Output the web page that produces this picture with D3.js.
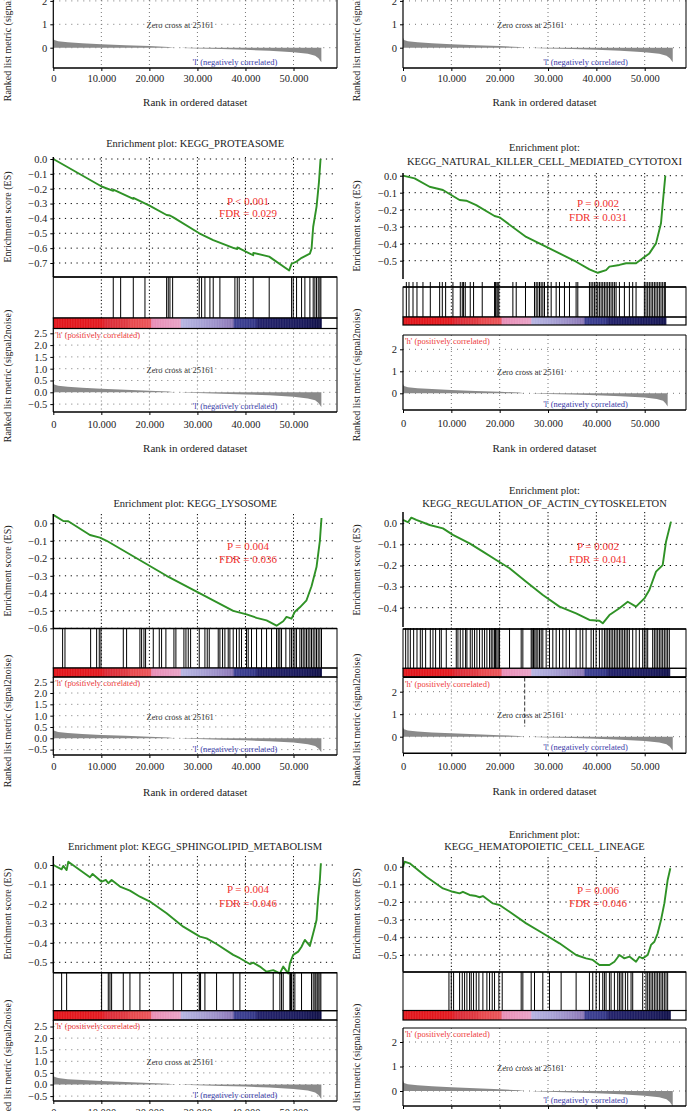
<!DOCTYPE html>
<html>
<head>
<meta charset="utf-8">
<script src="https://cdn.jsdelivr.net/npm/d3@7"></script>
<style>
body { margin: 0; background: #fff; }
svg { display: block; font-family: "Liberation Serif", "Times New Roman", serif; }
</style>
</head>
<body>
<svg id="chart" width="687" height="1111"></svg>
<script>
// ---- data ----
const xTicks = [0, 10000, 20000, 30000, 40000, 50000];
const rlTicksFine = [2.5, 2.0, 1.5, 1.0, 0.5, 0.0, -0.5];
const rlTicksCoarse = [2, 1, 0];
const zeroCross = 25161;

const geneSets = ['KEGG_PROTEASOME', 'KEGG_NATURAL_KILLER_CELL_MEDIATED_CYTOTOXI', 'KEGG_LYSOSOME',
    'KEGG_REGULATION_OF_ACTIN_CYTOSKELETON', 'KEGG_SPHINGOLIPID_METABOLISM', 'KEGG_HEMATOPOIETIC_CELL_LINEAGE'];
const pLabels = ['P < 0.001', 'P = 0.002', 'P = 0.004', 'P = 0.002', 'P = 0.004', 'P = 0.006'];
const fdrValues = ['0.029', '0.031', '0.036', '0.041', '0.046', '0.046'];
const listSizes = [56000, 55800, 55800, 54400, 55850, 55200, 55750, 55300];

// ranked list metric (signal2noise), [rank, value]
const rankedMetric = [[0, 0.42], [200, 0.33], [1000, 0.28], [3000, 0.23], [6000, 0.19], [10000, 0.15],
    [15000, 0.11], [20000, 0.07], [24000, 0.035], [25161, 0], [26800, 0], [27000, -0.01], [30000, -0.03],
    [35000, -0.06], [40000, -0.09], [45000, -0.13], [50000, -0.19], [53000, -0.26], [54500, -0.34],
    [55200, -0.45], [55800, -0.62]];
const rankedMetricNK = [[0, 0.42], [200, 0.33], [1000, 0.28], [3000, 0.23], [6000, 0.19], [10000, 0.15],
    [15000, 0.11], [20000, 0.07], [24000, 0.035], [25161, 0], [26800, 0], [27000, -0.01], [30000, -0.03],
    [35000, -0.06], [40000, -0.09], [45000, -0.13], [50000, -0.19], [52500, -0.26], [53800, -0.34],
    [54300, -0.45], [54750, -0.6]];

// colour bar stops (rank -> colour)
const barStops = [0, 10000, 11000, 15500, 16000, 20300, 20400, 26500, 26600, 30000, 34000, 37500, 37600, 42000, 42500, 52000, 56000];
const barColors = ['#e2151b', '#e3191f', '#dc2a36', '#e03a42', '#e8474c', '#ea5358', '#e88cb5', '#e8a2c6',
    '#b6b4e2', '#aaa6d8', '#9c8fc8', '#8a76b5', '#3c3f92', '#343788', '#22216a', '#1a1a5c', '#0e0e44'];

// running enrichment scores, [rank, ES]
const esTicksProteasome = [0, -0.1, -0.2, -0.3, -0.4, -0.5, -0.6, -0.7];
const esProteasome = [[0, 0], [10060, -0.185], [12480, -0.214], [12500, -0.206], [16650, -0.268], [16680, -0.262],
    [20120, -0.316], [23590, -0.377], [24280, -0.38], [24980, -0.393], [30380, -0.5], [33290, -0.546],
    [37450, -0.598], [38290, -0.606], [38320, -0.595], [41610, -0.648], [41640, -0.632], [44940, -0.657],
    [49100, -0.75], [49600, -0.705], [50640, -0.69], [51700, -0.665], [53410, -0.637], [53760, -0.603],
    [54100, -0.456], [54800, -0.32], [55280, -0.163], [55630, 0]];
const hitsProteasome = [12480, 14020, 16650, 19080, 23590, 23930, 24280, 24840, 30380, 30870, 31560, 32600,
    33290, 34680, 37800, 38290, 38700, 41610, 44940, 49600, 49940, 50640, 51680, 52370, 53410, 54100, 54450,
    54800, 55150, 55490, 55700];

const esTicksNK = [0, -0.1, -0.2, -0.3, -0.4, -0.5];
const esNK = [[0, 0], [2400, -0.016], [5500, -0.065], [8260, -0.084], [11700, -0.143], [13090, -0.147],
    [15150, -0.173], [18940, -0.237], [19970, -0.245], [25480, -0.36], [28930, -0.408], [32370, -0.457],
    [35810, -0.506], [38570, -0.551], [40290, -0.571], [42010, -0.555], [42700, -0.535], [44770, -0.525],
    [46150, -0.515], [48210, -0.515], [49590, -0.486], [50960, -0.457], [52340, -0.398], [53370, -0.28],
    [53860, -0.124], [54270, 0]];
const hitsNK = [690, 1240, 2070, 2890, 4130, 5650, 7580, 8130, 8820, 10330, 11850, 12260, 12530, 12880, 13910,
    14600, 16390, 18940, 19150, 19420, 19630, 19830, 22730, 23420, 25340, 27200, 27550, 27890, 28240, 28580,
    28930, 29270, 29960, 30650, 31680, 32370, 33400, 34440, 35810, 36160, 38570, 38910, 39260, 39600, 39940,
    40290, 40630, 40980, 41320, 41660, 42010, 42350, 42700, 43040, 43390, 43730, 44080, 44770, 45800, 46830,
    47520, 48210, 49930, 50270, 50620, 50960, 51310, 51650, 52000, 52340, 52690, 53030, 53370, 53720, 54060, 54270];

const esTicksLysosome = [0, -0.1, -0.2, -0.3, -0.4, -0.5, -0.6];
const esLysosome = [[0, 0.048], [2080, 0.013], [3120, 0.012], [7630, -0.067], [9710, -0.082], [11100, -0.1],
    [17340, -0.2], [23580, -0.3], [30520, -0.4], [37450, -0.5], [40230, -0.52], [42310, -0.54], [44390, -0.555],
    [46470, -0.585], [47860, -0.56], [48550, -0.535], [49590, -0.545], [50290, -0.505], [51330, -0.48],
    [52710, -0.44], [53750, -0.36], [54790, -0.25], [55490, -0.1], [55830, 0.03]];
const hitsLysosome = [1940, 2430, 7770, 9020, 9570, 9920, 14570, 15260, 18030, 18380, 18870, 19210, 20810, 22060,
    22540, 23440, 25110, 25520, 27190, 27610, 28090, 28580, 30380, 31560, 32040, 32460, 34330, 34680, 35240,
    35720, 36410, 36760, 37450, 38140, 38700, 39180, 40220, 40570, 41260, 42310, 43350, 44390, 45430, 46470,
    46820, 47160, 47510, 48410, 49240, 49590, 49940, 50290, 50630, 51330, 51680, 52020, 52370, 52710, 53060,
    53410, 53750, 54100, 54450, 54790, 55140, 55490, 55830];

const esTicksActin = [0, -0.1, -0.2, -0.3, -0.4];
const esActin = [[0, 0.016], [1030, 0.005], [1720, 0.027], [2750, 0.016], [5510, -0.008], [8260, -0.024],
    [10330, -0.055], [13770, -0.095], [16530, -0.134], [19280, -0.174], [22040, -0.213], [25480, -0.277],
    [28930, -0.34], [32370, -0.395], [35810, -0.427], [38570, -0.458], [40630, -0.462], [41320, -0.474],
    [42700, -0.435], [44770, -0.403], [46490, -0.372], [48210, -0.395], [49930, -0.356], [50960, -0.316],
    [52340, -0.229], [53720, -0.198], [54410, -0.087], [55440, 0.008]];
const hitsActin = [551, 1033, 1515, 2204, 2893, 3581, 3994, 4683, 5647, 6198, 6749, 7576, 7920, 8953, 11019,
    11364, 11846, 12397, 12948, 13223, 13912, 14325, 14807, 15289, 15840, 16391, 16873, 17355, 17906, 18251,
    18595, 18939, 19146, 19421, 19697, 19972, 22038, 24449, 24793, 26515, 26722, 26997, 27273, 27548, 27892,
    28237, 28581, 28925, 29614, 30303, 30992, 31680, 32369, 33058, 33746, 34435, 35812, 36639, 37190, 37878,
    38911, 39393, 39944, 40633, 41184, 41666, 42010, 42355, 42699, 43044, 43388, 43732, 44077, 44421, 44766,
    45110, 45454, 45799, 46143, 46487, 46832, 47520, 48209, 48898, 49586, 49931, 50275, 50619, 51652, 51997,
    52341, 52685, 53030, 53374, 53718, 54063, 54407, 54752, 55096];

const esTicksSphingo = [0, -0.1, -0.2, -0.3, -0.4, -0.5];
const esSphingo = [[0, 0], [1734, -0.022], [2081, -0.005], [2774, -0.026], [3121, 0.017], [7630, -0.063],
    [8184, -0.046], [10057, -0.086], [10959, -0.077], [11444, -0.094], [12138, -0.077], [13872, -0.111],
    [15953, -0.132], [18034, -0.163], [20114, -0.188], [23582, -0.248], [27050, -0.317], [30518, -0.368],
    [31906, -0.377], [33986, -0.406], [37454, -0.462], [38842, -0.479], [40922, -0.509], [41616, -0.502],
    [43003, -0.522], [44390, -0.548], [45778, -0.54], [47165, -0.557], [47858, -0.522], [48899, -0.557],
    [49246, -0.506], [49939, -0.462], [50980, -0.445], [51673, -0.42], [52367, -0.385], [53407, -0.416],
    [54101, -0.351], [54448, -0.317], [54794, -0.283], [55141, -0.163], [55488, -0.077], [55696, 0.009]];
const hitsSphingo = [1734, 2774, 10057, 11444, 11791, 12138, 14566, 15953, 18034, 24970, 26704, 30380, 30518,
    30657, 31559, 33986, 37454, 38842, 45778, 47165, 47512, 47858, 49246, 49385, 49593, 49939, 50286, 51673,
    53754, 54101, 54448, 54656, 54933, 55141, 55488, 55696];

const esTicksHemat = [0, -0.1, -0.2, -0.3, -0.4, -0.5];
const esHemat = [[0, 0], [344, 0.028], [1377, 0.019], [4821, -0.057], [8264, -0.123], [10330, -0.142],
    [11708, -0.151], [12397, -0.142], [13774, -0.16], [15151, -0.166], [15840, -0.173], [16529, -0.166],
    [18595, -0.208], [19972, -0.217], [22038, -0.255], [25482, -0.321], [28925, -0.377], [32369, -0.434],
    [35812, -0.5], [37878, -0.519], [39256, -0.528], [40633, -0.557], [42699, -0.557], [43732, -0.538],
    [44766, -0.5], [45799, -0.519], [46832, -0.509], [48209, -0.538], [48898, -0.51], [49586, -0.519],
    [50619, -0.5], [51308, -0.443], [51997, -0.425], [52685, -0.377], [53374, -0.302], [54063, -0.208],
    [54752, -0.075], [55303, -0.009]];
const hitsHemat = [9504, 9986, 10468, 11708, 12259, 12741, 13223, 13774, 14118, 14600, 15151, 15702, 16529,
    17355, 17906, 18457, 18939, 19835, 20523, 24449, 24793, 26515, 27204, 28925, 30303, 32713, 35812, 38567,
    39256, 39944, 40633, 41322, 41666, 42010, 42699, 43044, 43732, 44421, 44766, 45110, 45454, 46005, 46487,
    47176, 47520, 49586, 50275, 50619, 50964, 51308, 51652, 51997, 52341, 52685, 53030, 53374, 53718, 54063,
    54407, 54752];

// ---- layout ----
const COLS = [
    {x0: 53.3, x50: 293.5, xR: 337, labelX: 7},
    {x0: 403, x50: 644.7, xR: 686, labelX: 356}
];

const panels = [
    {col: 0, top: true, metric: rankedMetric, size: listSizes[0],
     rl: {dom: [0, 1], rng: [47.7, 24.3], top: -20, bottom: 68}, rlTicks: rlTicksCoarse, rlFmt: 'd',
     xTickY: 78.3, xTitleY: 102, rlLabelY: 35},
    {col: 1, top: true, metric: rankedMetric, size: listSizes[1],
     rl: {dom: [0, 1], rng: [47.7, 24.3], top: -20, bottom: 68}, rlTicks: rlTicksCoarse, rlFmt: 'd',
     xTickY: 78.3, xTitleY: 102, rlLabelY: 35},
    {col: 0, set: 0, title: ['Enrichment plot: ' + geneSets[0]], titleY: [143],
     esData: esProteasome, esTicks: esTicksProteasome, hitsData: hitsProteasome, metric: rankedMetric, size: listSizes[2],
     es: {dom: [0, -0.7], rng: [159, 263], top: 157, bottom: 277}, esLabelY: 217,
     hits: {top: 277, bottom: 318, line: 277}, bar: {top: 318, bottom: 328.5},
     rl: {dom: [0, 2.5], rng: [392.3, 333.3], top: 328.5, bottom: 412}, rlTicks: rlTicksFine, rlFmt: '.1f',
     xTickY: 424, xTitleY: 448, statsX: 248, statsY: [201, 213.3], rlLabelY: 376},
    {col: 1, set: 1, title: ['Enrichment plot:', geneSets[1]], titleY: [147, 161],
     esData: esNK, esTicks: esTicksNK, hitsData: hitsNK, metric: rankedMetricNK, size: listSizes[3],
     es: {dom: [0, -0.5], rng: [175.7, 260.7], top: 173, bottom: 279}, esLabelY: 226,
     hits: {top: 282, bottom: 317, line: 287}, bar: {top: 317, bottom: 325},
     rl: {dom: [0, 2], rng: [393.3, 349.3], top: 335, bottom: 410}, rlTicks: rlTicksCoarse, rlFmt: 'd',
     xTickY: 423.3, xTitleY: 448, statsX: 598, statsY: [203.3, 217.3], rlLabelY: 375},
    {col: 0, set: 2, title: ['Enrichment plot: ' + geneSets[2]], titleY: [503.3],
     esData: esLysosome, esTicks: esTicksLysosome, hitsData: hitsLysosome, metric: rankedMetric, size: listSizes[4],
     es: {dom: [0, -0.6], rng: [523.3, 628.3], top: 514, bottom: 628.5}, esLabelY: 571,
     hits: {top: 628.5, bottom: 668, line: 628.5}, bar: {top: 668, bottom: 677},
     rl: {dom: [0, 2.5], rng: [738.3, 681.7], top: 677, bottom: 755}, rlTicks: rlTicksFine, rlFmt: '.1f',
     xTickY: 766.7, xTitleY: 791.7, statsX: 248, statsY: [546, 559.3], rlLabelY: 721},
    {col: 1, set: 3, title: ['Enrichment plot:', geneSets[3]], titleY: [490, 503.3], zeroLine: true,
     esData: esActin, esTicks: esTicksActin, hitsData: hitsActin, metric: rankedMetric, size: listSizes[5],
     es: {dom: [0, -0.4], rng: [523.3, 607.7], top: 512, bottom: 627}, esLabelY: 570,
     hits: {top: 628, bottom: 668.3, line: 629}, bar: {top: 668.3, bottom: 676.7},
     rl: {dom: [0, 2], rng: [736.7, 691.7], top: 677.5, bottom: 753.3}, rlTicks: rlTicksCoarse, rlFmt: 'd',
     xTickY: 766, xTitleY: 791, statsX: 598, statsY: [546, 559.3], rlLabelY: 720},
    {col: 0, set: 4, title: ['Enrichment plot: ' + geneSets[4]], titleY: [846.7],
     esData: esSphingo, esTicks: esTicksSphingo, hitsData: hitsSphingo, metric: rankedMetric, size: listSizes[6],
     es: {dom: [0, -0.5], rng: [865, 962.3], top: 856, bottom: 972.7}, esLabelY: 914,
     hits: {top: 972.7, bottom: 1010.7, line: 972.7}, bar: {top: 1010.7, bottom: 1020},
     rl: {dom: [0, 2.5], rng: [1084.5, 1026.5], top: 1020, bottom: 1101}, rlTicks: rlTicksFine, rlFmt: '.1f',
     xTickY: 1112, xTitleY: 1137, statsX: 248, statsY: [889.3, 903.3], rlLabelY: 1066},
    {col: 1, set: 5, title: ['Enrichment plot:', geneSets[5]], titleY: [834, 846.7],
     esData: esHemat, esTicks: esTicksHemat, hitsData: hitsHemat, metric: rankedMetric, size: listSizes[7],
     es: {dom: [0, -0.5], rng: [866.7, 955], top: 857, bottom: 971.7}, esLabelY: 914,
     hits: {top: 972, bottom: 1010.5, line: 972}, bar: {top: 1010.5, bottom: 1020},
     rl: {dom: [0, 2], rng: [1091, 1042], top: 1028, bottom: 1106}, rlTicks: rlTicksCoarse, rlFmt: 'd',
     xTickY: 1117, xTitleY: 1140, statsX: 598, statsY: [890, 903.3], rlLabelY: 1070}
];

const svg = d3.select('#chart');
const fmtX = d3.formatLocale({decimal: ',', thousands: '.', grouping: [3], currency: ['', '']}).format(',');
const colorScale = d3.scaleLinear().domain(barStops).range(barColors);
const TEXT = '#222';

function styleAxis(ax) {
    ax.attr('font-family', null).attr('font-size', 10.5);
    ax.select('.domain').remove();
    ax.selectAll('text').attr('fill', TEXT);
    ax.selectAll('line').attr('stroke', '#000');
}

function drawPanel(p) {
    const c = COLS[p.col];
    const g = svg.append('g');
    const x = d3.scaleLinear().domain([0, 50000]).range([c.x0, c.x50]);
    const midX = (c.x0 + c.xR) / 2;
    const inner = xTicks.filter(d => d > 0);

    if (p.title) {
        g.append('g').selectAll('text').data(p.title).join('text')
            .attr('x', midX)
            .attr('y', (d, i) => p.titleY[i])
            .attr('text-anchor', 'middle')
            .attr('dominant-baseline', 'central')
            .attr('font-size', 10.5)
            .attr('fill', TEXT)
            .text(d => d);
    }

    if (p.es) {
        const y = d3.scaleLinear().domain(p.es.dom).range(p.es.rng);

        g.append('g').selectAll('line').data(p.esTicks).join('line')
            .attr('x1', c.x0).attr('x2', c.xR)
            .attr('y1', d => y(d)).attr('y2', d => y(d))
            .attr('stroke', '#000').attr('stroke-width', 1)
            .attr('stroke-dasharray', '1.2,4.6');
        g.append('g').selectAll('line').data(inner).join('line')
            .attr('x1', d => x(d)).attr('x2', d => x(d))
            .attr('y1', p.es.top).attr('y2', p.hits.bottom)
            .attr('stroke', '#000').attr('stroke-width', 1)
            .attr('stroke-dasharray', '1.2,2.2');

        g.append('path').datum(p.esData)
            .attr('d', d3.line().x(d => x(d[0])).y(d => y(d[1])))
            .attr('fill', 'none')
            .attr('stroke', '#2f9226')
            .attr('stroke-width', 1.9)
            .attr('stroke-linejoin', 'round');

        let ax = g.append('g').attr('transform', `translate(${c.x0},0)`)
            .call(d3.axisLeft(y).tickValues(p.esTicks).tickSize(3).tickPadding(3).tickFormat(d3.format('.1f')));
        styleAxis(ax);
        g.append('line')
            .attr('x1', c.x0).attr('x2', c.x0).attr('y1', p.es.top).attr('y2', p.es.bottom)
            .attr('stroke', '#000').attr('stroke-width', 1.5);

        g.append('g').selectAll('text').data([pLabels[p.set], 'FDR = ' + fdrValues[p.set]]).join('text')
            .attr('x', p.statsX)
            .attr('y', (d, i) => p.statsY[i])
            .attr('text-anchor', 'middle')
            .attr('dominant-baseline', 'central')
            .attr('font-size', 11)
            .attr('fill', '#f0302e')
            .text(d => d);

        g.append('text')
            .attr('transform', `translate(${c.labelX},${p.esLabelY}) rotate(-90)`)
            .attr('text-anchor', 'middle')
            .attr('dominant-baseline', 'central')
            .attr('font-size', 10)
            .attr('fill', TEXT)
            .text('Enrichment score (ES)');

        // hits
        g.append('g').selectAll('line').data(p.hitsData).join('line')
            .attr('x1', d => x(d)).attr('x2', d => x(d))
            .attr('y1', p.hits.top).attr('y2', p.hits.bottom)
            .attr('stroke', '#000').attr('stroke-width', 1);
        g.append('rect')
            .attr('x', c.x0).attr('y', p.hits.line)
            .attr('width', c.xR - c.x0).attr('height', p.bar.top - p.hits.line)
            .attr('fill', 'none').attr('stroke', '#000').attr('stroke-width', 1);
        g.append('line')
            .attr('x1', c.x0).attr('x2', c.xR).attr('y1', p.hits.line).attr('y2', p.hits.line)
            .attr('stroke', '#000').attr('stroke-width', 1.6);

        // colour bar
        const step = 150;
        g.append('g').selectAll('rect').data(d3.range(0, p.size, step)).join('rect')
            .attr('x', d => x(d))
            .attr('width', d => x(Math.min(d + step, p.size)) - x(d) + 0.4)
            .attr('y', p.bar.top)
            .attr('height', p.bar.bottom - p.bar.top)
            .attr('fill', d => colorScale(d + step / 2));
        g.append('rect')
            .attr('x', c.x0).attr('y', p.bar.top)
            .attr('width', c.xR - c.x0).attr('height', p.bar.bottom - p.bar.top)
            .attr('fill', 'none').attr('stroke', '#000').attr('stroke-width', 1.2);
    }

    // ranked list panel
    const yr = d3.scaleLinear().domain(p.rl.dom).range(p.rl.rng);
    g.append('g').selectAll('line').data(p.rlTicks).join('line')
        .attr('x1', c.x0).attr('x2', c.xR)
        .attr('y1', d => yr(d)).attr('y2', d => yr(d))
        .attr('stroke', '#777').attr('stroke-width', 1)
        .attr('stroke-dasharray', '1,5');
    g.append('g').selectAll('line').data(inner).join('line')
        .attr('x1', d => x(d)).attr('x2', d => x(d))
        .attr('y1', p.rl.top).attr('y2', p.rl.bottom)
        .attr('stroke', '#777').attr('stroke-width', 1)
        .attr('stroke-dasharray', '1,3');

    g.append('path').datum(p.metric)
        .attr('d', d3.area().x(d => x(d[0])).y0(yr(0)).y1(d => yr(d[1])))
        .attr('fill', '#8a8a8a');

    if (p.zeroLine) {
        g.append('line')
            .attr('x1', x(zeroCross)).attr('x2', x(zeroCross))
            .attr('y1', p.rl.top).attr('y2', yr(0.45))
            .attr('stroke', '#555').attr('stroke-width', 1.2)
            .attr('stroke-dasharray', '4,2');
    }

    let ay = g.append('g').attr('transform', `translate(${c.x0},0)`)
        .call(d3.axisLeft(yr).tickValues(p.rlTicks).tickSize(3).tickPadding(3).tickFormat(d3.format(p.rlFmt)));
    styleAxis(ay);
    g.append('line')
        .attr('x1', c.x0).attr('x2', c.x0).attr('y1', p.rl.top).attr('y2', p.rl.bottom)
        .attr('stroke', '#000').attr('stroke-width', 1.2);
    g.append('line')
        .attr('x1', c.xR).attr('x2', c.xR).attr('y1', p.rl.top).attr('y2', p.rl.bottom)
        .attr('stroke', '#000').attr('stroke-width', 1);
    if (!p.top) {
        g.append('line')
            .attr('x1', c.x0).attr('x2', c.xR).attr('y1', p.rl.top).attr('y2', p.rl.top)
            .attr('stroke', '#000').attr('stroke-width', 1);
    }

    let bx = g.append('g').attr('transform', `translate(0,${p.rl.bottom})`)
        .call(d3.axisBottom(x).tickValues(xTicks).tickSize(3).tickFormat(fmtX));
    styleAxis(bx);
    bx.selectAll('text').attr('y', p.xTickY - p.rl.bottom).attr('dy', '0.35em');
    g.append('line')
        .attr('x1', c.x0).attr('x2', c.xR).attr('y1', p.rl.bottom).attr('y2', p.rl.bottom)
        .attr('stroke', '#000').attr('stroke-width', 1.5);

    g.append('text')
        .attr('x', x(26400)).attr('y', yr(1) + 1)
        .attr('text-anchor', 'middle').attr('dominant-baseline', 'central')
        .attr('font-size', 8.5).attr('fill', '#333')
        .text('Zero cross at ' + zeroCross);
    if (!p.top) {
        g.append('text')
            .attr('x', c.x0 + 2).attr('y', p.rl.top + 6)
            .attr('dominant-baseline', 'central')
            .attr('font-size', 8.5).attr('fill', '#ee3b3b')
            .text("'h' (positively correlated)");
    }
    g.append('text')
        .attr('x', x(29000)).attr('y', p.rl.bottom - 6.5)
        .attr('dominant-baseline', 'central')
        .attr('font-size', 8.5).attr('fill', '#3a3aa8')
        .text("'l' (negatively correlated)");

    g.append('text')
        .attr('x', midX).attr('y', p.xTitleY)
        .attr('text-anchor', 'middle').attr('dominant-baseline', 'central')
        .attr('font-size', 11).attr('fill', TEXT)
        .text('Rank in ordered dataset');

    g.append('text')
        .attr('transform', `translate(${c.labelX},${p.rlLabelY}) rotate(-90)`)
        .attr('text-anchor', 'middle')
        .attr('dominant-baseline', 'central')
        .attr('font-size', 10)
        .attr('fill', TEXT)
        .text('Ranked list metric (signal2noise)');
}

panels.forEach(drawPanel);
</script>
</body>
</html>
